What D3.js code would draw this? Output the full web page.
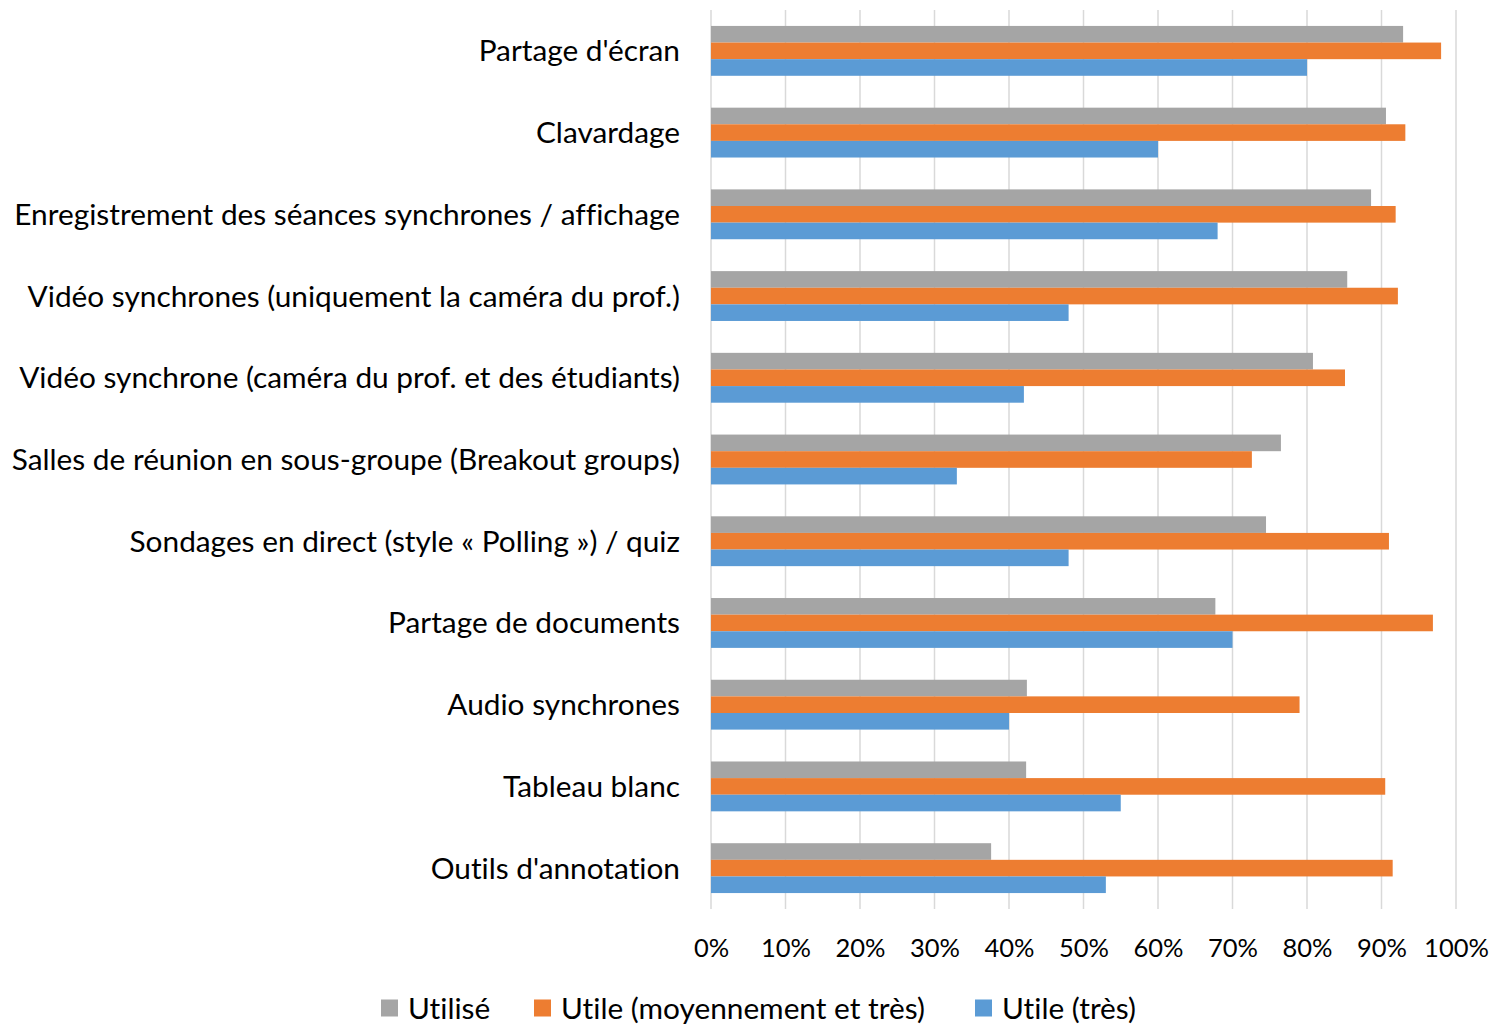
<!DOCTYPE html>
<html>
<head>
<meta charset="utf-8">
<script src="https://cdn.jsdelivr.net/npm/d3@7"></script>
<style>
  html, body { margin: 0; padding: 0; background: #fff; }
  svg text {
    font-family: Lato, "Noto Sans", sans-serif;
    fill: #000;
    font-variant-ligatures: none;
    font-feature-settings: "liga" 0, "dlig" 0;
  }
</style>
</head>
<body>
<svg id="chart" width="1508" height="1025"></svg>
<script>
// Outils de visioconférence : utilisation et utilité perçue (%)
const categories = [
  "Partage d'écran",
  "Clavardage",
  "Enregistrement des séances synchrones / affichage",
  "Vidéo synchrones (uniquement la caméra du prof.)",
  "Vidéo synchrone (caméra du prof. et des étudiants)",
  "Salles de réunion en sous-groupe (Breakout groups)",
  "Sondages en direct (style « Polling ») / quiz",
  "Partage de documents",
  "Audio synchrones",
  "Tableau blanc",
  "Outils d'annotation"
];
const seriesNames = ["Utilisé", "Utile (moyennement et très)", "Utile (très)"];
const utilise      = [92.9, 90.6, 88.6, 85.4, 80.8, 76.5, 74.5, 67.7, 42.4, 42.3, 37.6];
const utileMoyTres = [98.0, 93.2, 91.9, 92.2, 85.1, 72.6, 91.0, 96.9, 79.0, 90.5, 91.5];
const utileTres    = [80.0, 60.0, 68.0, 48.0, 42.0, 33.0, 48.0, 70.0, 40.0, 55.0, 53.0];
const tickValues = [0, 10, 20, 30, 40, 50, 60, 70, 80, 90, 100];
const colors = ["#A5A5A5", "#ED7D31", "#5B9BD5"];

const series = [utilise, utileMoyTres, utileTres];

const svg = d3.select("#chart");
const plot = { left: 711, right: 1456, top: 10, bottom: 909 };

const x = d3.scaleLinear().domain([0, 100]).range([plot.left, plot.right]);
const y = d3.scaleBand().domain(categories).range([plot.top, plot.bottom]).paddingInner(0.39).paddingOuter(0.195);
const ySeries = d3.scaleBand().domain(d3.range(series.length)).range([0, y.bandwidth()]);

// vertical gridlines
svg.append("g")
  .selectAll("line")
  .data(tickValues)
  .join("line")
  .attr("x1", d => x(d)).attr("x2", d => x(d))
  .attr("y1", plot.top).attr("y2", plot.bottom)
  .attr("stroke", "#D9D9D9")
  .attr("stroke-width", 1.5);

// bars
const groups = svg.append("g")
  .selectAll("g")
  .data(categories)
  .join("g")
  .attr("transform", d => `translate(0,${y(d)})`);

groups.selectAll("rect")
  .data((c, i) => series.map((s, k) => ({ k, v: s[i] })))
  .join("rect")
  .attr("x", x(0))
  .attr("y", d => ySeries(d.k))
  .attr("width", d => x(d.v) - x(0))
  .attr("height", ySeries.bandwidth())
  .attr("fill", d => colors[d.k]);

// category labels
svg.append("g")
  .selectAll("text")
  .data(categories)
  .join("text")
  .attr("x", 680)
  .attr("y", d => y(d) + y.bandwidth() / 2 - 1)
  .attr("text-anchor", "end")
  .attr("dominant-baseline", "central")
  .style("font-size", "29.8px")
  .text(d => d);

// x-axis tick labels
const xAxis = d3.axisBottom(x)
  .tickValues(tickValues)
  .tickFormat(d => d + "%")
  .tickSize(0)
  .tickPadding(0);
const ax = svg.append("g")
  .attr("transform", `translate(0,947)`)
  .call(xAxis);
ax.select(".domain").remove();
ax.selectAll("text")
  .attr("dy", null)
  .attr("y", 0)
  .attr("dominant-baseline", "central")
  .style("font-size", "25.5px")
  .style("font-family", "Lato, 'Noto Sans', sans-serif")
  .attr("fill", "#000");

// legend
const legendX = [381, 534, 975];
const legend = svg.append("g")
  .selectAll("g")
  .data(seriesNames)
  .join("g")
  .attr("transform", (d, i) => `translate(${legendX[i]},1008)`);
legend.append("rect")
  .attr("x", 0).attr("y", -8.5)
  .attr("width", 17).attr("height", 17)
  .attr("fill", (d, i) => colors[i]);
legend.append("text")
  .attr("x", 27).attr("y", -1)
  .attr("dominant-baseline", "central")
  .style("font-size", "29.8px")
  .text(d => d);
</script>
</body>
</html>
